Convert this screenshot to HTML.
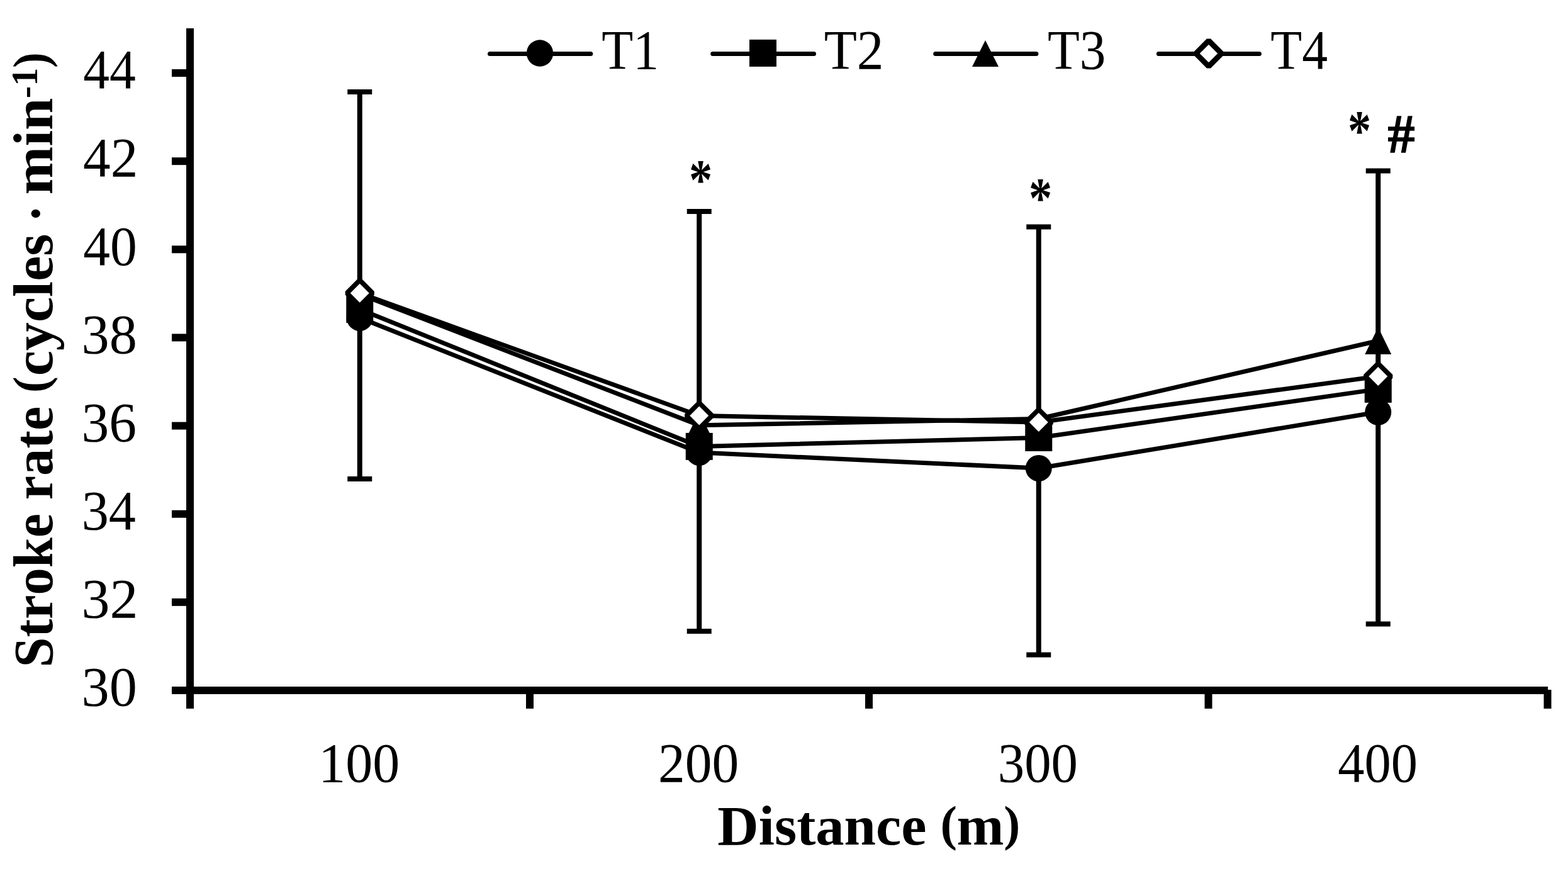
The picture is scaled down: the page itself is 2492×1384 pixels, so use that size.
<!DOCTYPE html>
<html><head><meta charset="utf-8"><title>Stroke rate chart</title>
<style>html,body{margin:0;padding:0;background:#fff;overflow:hidden}svg{display:block}</style>
</head><body>
<svg width="2492" height="1384" viewBox="0 0 2492 1384">
<rect x="0" y="0" width="2492" height="1384" fill="#fff"/>
<g fill="#000">
<rect x="296" y="45" width="12" height="1081"/>
<rect x="296" y="1091" width="2164" height="12"/>
<rect x="273" y="1091.00" width="30" height="12"/>
<rect x="273" y="950.86" width="30" height="12"/>
<rect x="273" y="810.72" width="30" height="12"/>
<rect x="273" y="670.58" width="30" height="12"/>
<rect x="273" y="530.44" width="30" height="12"/>
<rect x="273" y="390.30" width="30" height="12"/>
<rect x="273" y="250.16" width="30" height="12"/>
<rect x="273" y="110.02" width="30" height="12"/>
<rect x="836.00" y="1096" width="12" height="30"/>
<rect x="1375.00" y="1096" width="12" height="30"/>
<rect x="1914.50" y="1096" width="12" height="30"/>
<rect x="2453.50" y="1096" width="12" height="30"/>
</g>
<g font-family="'Liberation Serif', 'DejaVu Serif', serif" fill="#000" style="font-kerning:none">
<text x="129.58" y="1121.20" font-size="88" textLength="88.29" lengthAdjust="spacingAndGlyphs">30</text>
<text x="129.49" y="981.06" font-size="88" textLength="89.97" lengthAdjust="spacingAndGlyphs">32</text>
<text x="129.68" y="840.92" font-size="88" textLength="86.17" lengthAdjust="spacingAndGlyphs">34</text>
<text x="129.61" y="700.78" font-size="88" textLength="87.49" lengthAdjust="spacingAndGlyphs">36</text>
<text x="129.58" y="560.64" font-size="88" textLength="88.29" lengthAdjust="spacingAndGlyphs">38</text>
<text x="132.13" y="420.50" font-size="88" textLength="85.63" lengthAdjust="spacingAndGlyphs">40</text>
<text x="132.10" y="280.36" font-size="88" textLength="87.22" lengthAdjust="spacingAndGlyphs">42</text>
<text x="132.17" y="140.22" font-size="88" textLength="83.64" lengthAdjust="spacingAndGlyphs">44</text>
<text x="506.24" y="1242.00" font-size="88" textLength="129.04" lengthAdjust="spacingAndGlyphs">100</text>
<text x="1046.04" y="1242.00" font-size="88" textLength="128.32" lengthAdjust="spacingAndGlyphs">200</text>
<text x="1585.74" y="1242.00" font-size="88" textLength="127.29" lengthAdjust="spacingAndGlyphs">300</text>
<text x="2126.25" y="1242.00" font-size="88" textLength="126.77" lengthAdjust="spacingAndGlyphs">400</text>
<text x="1140.31" y="1341.80" font-size="88.3" font-weight="bold" textLength="332.14" lengthAdjust="spacingAndGlyphs">Distance</text>
<text x="1494.41" y="1334.60" font-size="77.5" font-weight="bold" textLength="26.45" lengthAdjust="spacingAndGlyphs">(</text>
<text x="1520.48" y="1341.80" font-size="88.3" font-weight="bold" textLength="74.95" lengthAdjust="spacingAndGlyphs">m</text>
<text x="1595.38" y="1334.60" font-size="77.5" font-weight="bold" textLength="26.06" lengthAdjust="spacingAndGlyphs">)</text>
<g transform="rotate(-90)">
<text x="-1060.60" y="83.00" font-size="88" font-weight="bold" textLength="414.93" lengthAdjust="spacingAndGlyphs">Stroke rate</text>
<text x="-624.22" y="75.40" font-size="77.5" font-weight="bold" textLength="25.93" lengthAdjust="spacingAndGlyphs">(</text>
<text x="-597.39" y="83.00" font-size="88" font-weight="bold" textLength="225.80" lengthAdjust="spacingAndGlyphs">cycles</text>
<text x="-353.01" y="86.40" font-size="88" font-weight="bold" textLength="27.36" lengthAdjust="spacingAndGlyphs">·</text>
<text x="-309.48" y="83.00" font-size="88" font-weight="bold" textLength="153.88" lengthAdjust="spacingAndGlyphs">min</text>
<text x="-156.13" y="58.70" font-size="58.3" font-weight="bold" textLength="48.55" lengthAdjust="spacingAndGlyphs">-1</text>
<text x="-107.91" y="75.40" font-size="77.5" font-weight="bold" textLength="24.89" lengthAdjust="spacingAndGlyphs">)</text>
</g>
</g>
<g fill="none" stroke="#000" stroke-width="7" stroke-linejoin="round">
<polyline points="571.75,505.00 1111.25,719.00 1650.75,744.00 2190.25,654.80"/>
<polyline points="571.75,491.40 1111.25,709.40 1650.75,695.50 2190.25,618.40"/>
<polyline points="571.75,467.50 1111.25,675.70 1650.75,665.50 2190.25,541.50"/>
<polyline points="571.75,465.70 1111.25,660.50 1650.75,671.00 2190.25,598.00"/>
</g>
<g fill="#000">
<rect x="567.75" y="146.00" width="8" height="319.70"/>
<rect x="567.75" y="505.00" width="8" height="256.00"/>
<rect x="552.25" y="142.00" width="39" height="8"/>
<rect x="552.25" y="757.00" width="39" height="8"/>
<rect x="1107.25" y="336.00" width="8" height="324.50"/>
<rect x="1107.25" y="719.00" width="8" height="284.00"/>
<rect x="1091.75" y="332.00" width="39" height="8"/>
<rect x="1091.75" y="999.00" width="39" height="8"/>
<rect x="1646.75" y="360.50" width="8" height="310.50"/>
<rect x="1646.75" y="744.00" width="8" height="296.50"/>
<rect x="1631.25" y="356.50" width="39" height="8"/>
<rect x="1631.25" y="1036.50" width="39" height="8"/>
<rect x="2186.25" y="271.50" width="8" height="326.50"/>
<rect x="2186.25" y="654.80" width="8" height="336.70"/>
<rect x="2170.75" y="267.50" width="39" height="8"/>
<rect x="2170.75" y="987.50" width="39" height="8"/>
</g>
<circle cx="571.75" cy="505.00" r="21" fill="#000"/>
<rect x="550.25" y="469.90" width="43" height="43" fill="#000"/>
<polygon points="571.75,446.00 592.75,489.00 550.75,489.00" fill="#000"/>
<polygon points="571.75,445.30 592.15,465.70 571.75,486.10 551.35,465.70" fill="#fff" stroke="#000" stroke-width="7.6" stroke-linejoin="bevel"/>
<circle cx="1111.25" cy="719.00" r="21" fill="#000"/>
<rect x="1089.75" y="687.90" width="43" height="43" fill="#000"/>
<polygon points="1111.25,654.20 1132.25,697.20 1090.25,697.20" fill="#000"/>
<polygon points="1111.25,640.10 1131.65,660.50 1111.25,680.90 1090.85,660.50" fill="#fff" stroke="#000" stroke-width="7.6" stroke-linejoin="bevel"/>
<circle cx="1650.75" cy="744.00" r="21" fill="#000"/>
<rect x="1629.25" y="674.00" width="43" height="43" fill="#000"/>
<polygon points="1650.75,644.00 1671.75,687.00 1629.75,687.00" fill="#000"/>
<polygon points="1650.75,650.60 1671.15,671.00 1650.75,691.40 1630.35,671.00" fill="#fff" stroke="#000" stroke-width="7.6" stroke-linejoin="bevel"/>
<circle cx="2190.25" cy="654.80" r="21" fill="#000"/>
<rect x="2168.75" y="596.90" width="43" height="43" fill="#000"/>
<polygon points="2190.25,520.00 2211.25,563.00 2169.25,563.00" fill="#000"/>
<polygon points="2190.25,577.60 2210.65,598.00 2190.25,618.40 2169.85,598.00" fill="#fff" stroke="#000" stroke-width="7.6" stroke-linejoin="bevel"/>
<g font-family="'Liberation Serif', 'DejaVu Serif', serif" fill="#000" style="font-kerning:none">
<text x="1094.91" y="316.37" font-size="90" font-weight="bold" textLength="37.17" lengthAdjust="spacingAndGlyphs">*</text>
<text x="1634.91" y="345.37" font-size="90" font-weight="bold" textLength="37.17" lengthAdjust="spacingAndGlyphs">*</text>
<text x="2141.91" y="238.37" font-size="90" font-weight="bold" textLength="37.17" lengthAdjust="spacingAndGlyphs">*</text>
<text x="2205.46" y="242.35" font-size="86.6" font-weight="bold" textLength="43.07" lengthAdjust="spacingAndGlyphs" stroke="#000" stroke-width="1.3">#</text>
</g>
<g stroke="#000" stroke-width="7" stroke-linecap="round">
<line x1="778.5" y1="85.4" x2="938.8" y2="85.4"/>
<line x1="1132.7" y1="85.4" x2="1293.5" y2="85.4"/>
<line x1="1486.7" y1="85.4" x2="1646.9" y2="85.4"/>
<line x1="1841.4" y1="85.4" x2="2001.4" y2="85.4"/>
</g>
<circle cx="858.00" cy="84.50" r="21.2" fill="#000"/>
<rect x="1191.00" y="62.90" width="43" height="43" fill="#000"/>
<polygon points="1566.00,63.90 1587.00,105.90 1545.00,105.90" fill="#000"/>
<polygon points="1921.00,64.70 1941.30,85.00 1921.00,105.30 1900.70,85.00" fill="#fff" stroke="#000" stroke-width="8.7" stroke-linejoin="bevel"/>
<g font-family="'Liberation Serif', 'DejaVu Serif', serif" fill="#000" style="font-kerning:none">
<text x="956.32" y="109.10" font-size="88.3" textLength="91.00" lengthAdjust="spacingAndGlyphs">T1</text>
<text x="1309.66" y="109.10" font-size="88.3" textLength="94.85" lengthAdjust="spacingAndGlyphs">T2</text>
<text x="1665.00" y="109.10" font-size="88.3" textLength="92.35" lengthAdjust="spacingAndGlyphs">T3</text>
<text x="2019.22" y="109.10" font-size="88.3" textLength="90.86" lengthAdjust="spacingAndGlyphs">T4</text>
</g>
</svg>
</body></html>
